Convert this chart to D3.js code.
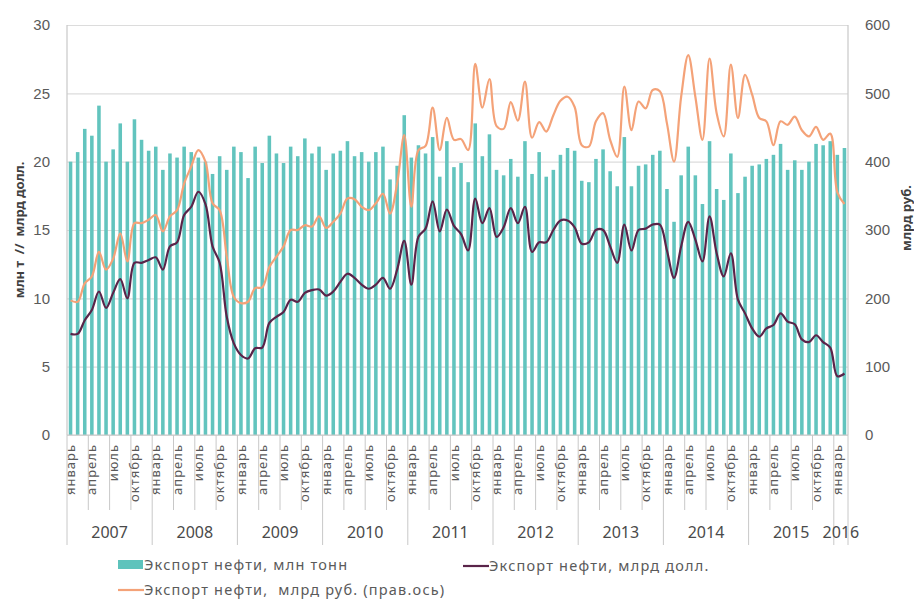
<!DOCTYPE html>
<html>
<head>
<meta charset="utf-8">
<script src="https://cdn.jsdelivr.net/npm/d3@7"></script>
<style>
  body { margin: 0; background: #fff; }
  svg { display: block; font-family: "Noto Sans", "Open Sans", sans-serif; }
</style>
</head>
<body>
<div id="chart"></div>
<script>
// Categories
var years = [2007, 2008, 2009, 2010, 2011, 2012, 2013, 2014, 2015, 2016];
var monthNames = ["январь", "февраль", "март", "апрель", "май", "июнь",
                  "июль", "август", "сентябрь", "октябрь", "ноябрь", "декабрь"];
var lastYearMonths = 2; // 2016: январь, февраль

// Экспорт нефти, млн тонн (bars, left axis)
var exportMt = [
  20.0, 20.7, 22.4, 21.9, 24.1, 20.0, 20.9, 22.8, 20.0, 23.1, 21.6, 20.8,
  21.1, 19.4, 20.6, 20.3, 21.1, 20.7, 20.3, 20.0, 19.1, 20.4, 19.4, 21.1,
  20.7, 18.8, 21.1, 19.9, 21.9, 20.6, 19.9, 21.1, 20.4, 21.7, 20.6, 21.1,
  19.4, 20.6, 20.8, 21.5, 20.4, 20.7, 20.0, 20.7, 21.1, 18.7, 19.7, 23.4,
  20.3, 21.2, 20.6, 21.8, 18.9, 21.5, 19.6, 19.9, 18.5, 22.8, 20.4, 22.0,
  19.4, 19.0, 20.2, 18.9, 21.5, 19.1, 20.7, 18.9, 19.4, 20.5, 21.0, 20.8,
  18.6, 18.5, 20.2, 20.9, 19.3, 18.2, 21.8, 18.2, 19.7, 19.8, 20.5, 20.8,
  18.0, 15.6, 19.0, 21.1, 19.0, 16.9, 21.5, 18.0, 17.2, 20.6, 17.7, 18.9,
  19.7, 19.8, 20.2, 20.5, 21.3, 19.4, 20.1, 19.4, 20.0, 21.3, 21.2, 21.5,
  20.5, 21.0
];

// Экспорт нефти, млрд долл. (left axis)
var exportUsd = [
  7.4, 7.4, 8.4, 9.15, 10.5, 9.3, 10.4, 11.4, 10.0, 12.6, 12.6, 12.8,
  13.0, 12.1, 13.8, 14.1, 16.1, 16.7, 17.8, 16.9, 13.8, 12.6, 8.65, 6.7,
  5.85, 5.6, 6.35, 6.4, 8.2, 8.65, 9.0, 9.9, 9.75, 10.4, 10.6, 10.65,
  10.2, 10.5, 11.2, 11.8, 11.5, 11.0, 10.7, 11.0, 11.5, 10.7, 12.1, 14.2,
  11.0, 14.5, 15.1, 17.1, 14.9, 16.5, 15.3, 14.7, 13.5, 17.3, 15.5, 16.6,
  14.5, 15.2, 16.6, 15.5, 16.7, 13.4, 14.1, 14.1, 15.0, 15.7, 15.7, 15.2,
  14.0, 14.1, 15.0, 15.0, 13.8, 12.6, 15.4, 13.5, 15.0, 15.1, 15.4, 15.4,
  13.5, 11.5, 13.8, 15.6, 14.3, 12.7, 16.0, 13.3, 11.6, 13.3, 9.9, 8.9,
  7.8, 7.2, 7.8, 8.05, 8.9, 8.3, 8.1, 7.0, 6.8, 7.3, 6.8, 6.4,
  4.3, 4.5
];

// Экспорт нефти, млрд руб. (right axis)
var exportRub = [
  197, 195, 222, 232, 268, 242, 258, 295, 254, 310, 310, 315,
  322, 298, 320, 329, 368, 393, 417, 400, 339, 329, 261, 202,
  193, 195, 215, 216, 246, 261, 276, 300, 300, 307, 305, 320,
  303, 312, 324, 346, 345, 334, 329, 339, 353, 324, 368, 439,
  334, 417, 423, 479, 417, 464, 432, 433, 417, 543, 479, 521,
  452, 448, 487, 460, 517, 435, 458, 444, 468, 489, 495, 480,
  424, 422, 459, 471, 432, 407, 510, 446, 488, 478, 505, 503,
  456, 400, 495, 556, 495, 432, 551, 471, 437, 542, 464, 527,
  498, 464, 459, 424, 459, 454, 466, 446, 437, 451, 432, 441,
  355, 338
];

var leftTicks = [0, 5, 10, 15, 20, 25, 30];
var rightTicks = [0, 100, 200, 300, 400, 500, 600];

var legendItems = [
  {label: "Экспорт нефти, млн тонн", type: "bar", color: "#5ec3bc", x: 118, y: 565},
  {label: "Экспорт нефти, млрд долл.", type: "line", color: "#5a2449", x: 463, y: 566},
  {label: "Экспорт нефти,  млрд руб. (прав.ось)", type: "line", color: "#f4a278", x: 118, y: 590}
];

// build category list
var cats = [];
years.forEach(function(yr, yi) {
  var n = (yi == years.length - 1) ? lastYearMonths : 12;
  for (var m = 0; m < n; m++) cats.push({year: yr, month: m, key: yr + "-" + m});
});
cats.forEach(function(c, i) {
  c.mt = exportMt[i];
  c.usd = exportUsd[i];
  c.rub = exportRub[i];
});

var W = 914, H = 599;
var margin = {top: 25, right: 66, bottom: 164, left: 67};
var width = W - margin.left - margin.right,
    height = H - margin.top - margin.bottom;

var svg = d3.select("#chart").append("svg")
    .attr("width", W)
    .attr("height", H);
svg.append("rect").attr("width", W).attr("height", H).attr("fill", "#fff");

var g = svg.append("g")
    .attr("transform", "translate(" + margin.left + "," + margin.top + ")");

var x = d3.scaleBand().domain(cats.map(function(d) { return d.key; }))
    .range([0, width]).paddingInner(0.5).paddingOuter(0.25);
var step = x.step();
var xc = function(d) { return x(d.key) + x.bandwidth() / 2; };
var y = d3.scaleLinear().domain([0, 30]).range([height, 0]);
var y2 = d3.scaleLinear().domain([0, 600]).range([height, 0]);

// grid
g.append("g")
    .attr("class", "grid")
    .call(d3.axisLeft(y).tickValues(leftTicks).tickSize(-width).tickFormat(""))
    .call(function(s) {
      s.select(".domain").remove();
      s.selectAll("line").attr("stroke", "#dcdcdc").attr("stroke-width", 1.2);
    });

// bars
g.selectAll(".bar")
    .data(cats)
  .enter().append("rect")
    .attr("class", "bar")
    .attr("x", function(d) { return x(d.key); })
    .attr("width", x.bandwidth())
    .attr("y", function(d) { return y(d.mt); })
    .attr("height", function(d) { return height - y(d.mt); })
    .attr("fill", "#62c4be");

// axis lines
g.append("line").attr("x1", 0).attr("x2", 0).attr("y1", 0).attr("y2", height)
    .attr("stroke", "#c8c8c8").attr("stroke-width", 1.2);
g.append("line").attr("x1", width).attr("x2", width).attr("y1", 0).attr("y2", height)
    .attr("stroke", "#c8c8c8").attr("stroke-width", 1.2);
g.append("line").attr("x1", 0).attr("x2", width).attr("y1", height).attr("y2", height)
    .attr("stroke", "#c8c8c8").attr("stroke-width", 1.2);

// lines
var lineRub = d3.line()
    .x(xc).y(function(d) { return y2(d.rub); })
    .curve(d3.curveCatmullRom.alpha(0.5));
var lineUsd = d3.line()
    .x(xc).y(function(d) { return y(d.usd); })
    .curve(d3.curveCatmullRom.alpha(0.5));

g.append("path").datum(cats)
    .attr("d", lineRub)
    .attr("fill", "none")
    .attr("stroke", "#f4a278")
    .attr("stroke-width", 2.2);

g.append("path").datum(cats)
    .attr("d", lineUsd)
    .attr("fill", "none")
    .attr("stroke", "#5a2449")
    .attr("stroke-width", 2.2);

// Y axes labels
g.append("g")
    .call(d3.axisLeft(y).tickValues(leftTicks).tickSize(0).tickPadding(17))
    .call(function(s) {
      s.select(".domain").remove();
      s.selectAll("text").attr("fill", "#5a5a5a").style("font-size", "15px");
    });
g.append("g")
    .attr("transform", "translate(" + width + ",0)")
    .call(d3.axisRight(y2).tickValues(rightTicks).tickSize(0).tickPadding(17))
    .call(function(s) {
      s.select(".domain").remove();
      s.selectAll("text").attr("fill", "#5a5a5a").style("font-size", "15px");
    });

// category axis: tick lines every 3 months, longer at year starts
var tickG = g.append("g").attr("transform", "translate(0," + height + ")");
cats.forEach(function(d, i) {
  if (d.month % 3 != 0) return;
  var xl = i == 0 ? 0 : x(d.key) - step * x.paddingInner() / 2;
  tickG.append("line")
      .attr("x1", xl).attr("x2", xl)
      .attr("y1", 0).attr("y2", d.month == 0 ? 110 : 75)
      .attr("stroke", "#c8c8c8").attr("stroke-width", 1);
  tickG.append("text")
      .attr("transform", "translate(" + xc(d) + ",9) rotate(-90)")
      .attr("text-anchor", "end")
      .attr("dy", "0.35em")
      .attr("fill", "#5a5a5a")
      .style("font-size", "13px")
      .style("letter-spacing", "1px")
      .text(monthNames[d.month]);
});
tickG.append("line")
    .attr("x1", width).attr("x2", width).attr("y1", 0).attr("y2", 110)
    .attr("stroke", "#c8c8c8").attr("stroke-width", 1);

// year labels
years.forEach(function(yr) {
  var ys = cats.filter(function(d) { return d.year == yr; });
  var first = ys[0], last = ys[ys.length - 1];
  var x0 = x(first.key) - step * x.paddingInner() / 2;
  var x1 = x(last.key) + x.bandwidth() + step * x.paddingInner() / 2;
  if (first === cats[0]) x0 = 0;
  if (last === cats[cats.length - 1]) x1 = width;
  tickG.append("text")
      .attr("x", (x0 + x1) / 2)
      .attr("y", 103)
      .attr("text-anchor", "middle")
      .attr("fill", "#4a4a4a")
      .style("font-size", "16px")
      .text(yr);
});

// axis titles
svg.append("text")
    .attr("transform", "translate(19,230) rotate(-90)")
    .attr("text-anchor", "middle")
    .attr("dy", "0.35em")
    .attr("fill", "#404040")
    .style("font-size", "13px")
    .style("font-weight", "bold")
    .style("white-space", "pre")
    .attr("xml:space", "preserve")
    .text("млн т  //  млрд долл.");
svg.append("text")
    .attr("transform", "translate(906,218) rotate(-90)")
    .attr("text-anchor", "middle")
    .attr("dy", "0.35em")
    .attr("fill", "#404040")
    .style("font-size", "13px")
    .style("font-weight", "bold")
    .text("млрд руб.");

// legend
var leg = svg.append("g").attr("class", "legend");
legendItems.forEach(function(d) {
  if (d.type == "bar") {
    leg.append("rect").attr("x", d.x).attr("y", d.y - 5).attr("width", 25).attr("height", 9)
        .attr("fill", d.color);
  } else {
    leg.append("line").attr("x1", d.x).attr("x2", d.x + 26).attr("y1", d.y).attr("y2", d.y)
        .attr("stroke", d.color).attr("stroke-width", 2.2);
  }
  leg.append("text")
      .attr("x", d.x + 26)
      .attr("y", d.y)
      .attr("dy", "0.35em")
      .attr("fill", "#5a5a5a")
      .style("font-size", "14.5px")
      .style("letter-spacing", "1.2px")
      .style("white-space", "pre")
      .attr("xml:space", "preserve")
      .text(d.label);
});
</script>
</body>
</html>
